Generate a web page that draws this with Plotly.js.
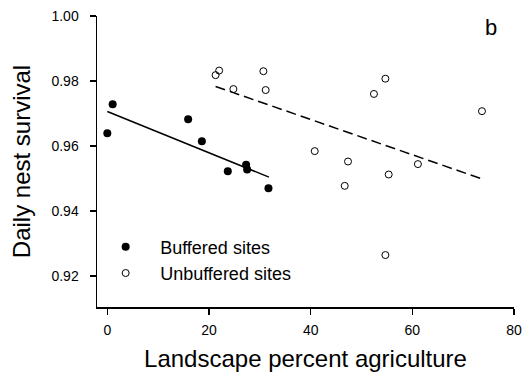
<!DOCTYPE html>
<html>
<head>
<meta charset="utf-8">
<script src="https://cdn.plot.ly/plotly-3.0.1.min.js"></script>
<style>html,body{margin:0;padding:0;background:#fff;}#chart{width:531px;height:381px;}</style>
</head>
<body>
<div id="chart"></div>
<script>
// Buffered sites (filled)
const bufferedX = [0.0, 1.05, 15.9, 18.6, 23.7, 27.3, 27.5, 31.7];
const bufferedY = [0.9639, 0.9728, 0.9682, 0.9614, 0.9522, 0.9542, 0.9527, 0.9470];
// Unbuffered sites (open)
const unbufferedX = [21.3, 22.0, 24.8, 30.7, 31.15, 54.7, 52.45, 73.7, 40.8, 47.35, 46.7, 55.35, 61.1, 54.7];
const unbufferedY = [0.9818, 0.9832, 0.9775, 0.9830, 0.9772, 0.9807, 0.9760, 0.9707, 0.9584, 0.9552, 0.9477, 0.9512, 0.9544, 0.9264];
// Fitted lines (endpoints)
const bufferedFitX = [0.0, 31.8];
const bufferedFitY = [0.9706, 0.9504];
const unbufferedFitX = [21.3, 73.4];
const unbufferedFitY = [0.9783, 0.9500];
// Ticks
const xTicks = [0, 20, 40, 60, 80];
const yTicks = [0.92, 0.94, 0.96, 0.98, 1.00];
const yTickText = ['0.92', '0.94', '0.96', '0.98', '1.00'];

const font = 'Liberation Sans, Arial, sans-serif';

const traces = [
  {x: bufferedFitX, y: bufferedFitY, mode: 'lines', line: {color: '#000', width: 1.5}, showlegend: false, hoverinfo: 'skip'},
  {x: unbufferedFitX, y: unbufferedFitY, mode: 'lines', line: {color: '#000', width: 1.5, dash: '10px,5px'}, showlegend: false, hoverinfo: 'skip'},
  {x: bufferedX, y: bufferedY, mode: 'markers', name: 'Buffered sites',
   marker: {symbol: 'circle', size: 8, color: '#000', line: {width: 0}}},
  {x: unbufferedX, y: unbufferedY, mode: 'markers', name: 'Unbuffered sites',
   marker: {symbol: 'circle-open', size: 7, color: '#000', line: {width: 1, color: '#000'}}}
];

const layout = {
  width: 531, height: 381,
  margin: {l: 97, r: 17, t: 16, b: 74},
  paper_bgcolor: '#fff', plot_bgcolor: '#fff',
  font: {family: font, color: '#000'},
  showlegend: true,
  legend: {x: -0.014, y: 0.27, xanchor: 'left', yanchor: 'top', bgcolor: 'rgba(0,0,0,0)',
           font: {size: 18, family: font, color: '#000'}, itemwidth: 59, traceorder: 'normal'},
  xaxis: {
    range: [-2.03, 80], tickvals: xTicks, ticktext: xTicks.map(String),
    showline: true, linecolor: '#000', linewidth: 1.5, ticks: 'outside', ticklen: 6, tickwidth: 1.5, tickcolor: '#000',
    showgrid: false, zeroline: false, tickfont: {size: 14, family: font}, ticklabelstandoff: 4,
    title: {text: 'Landscape percent agriculture', font: {size: 24, family: font}, standoff: 13}
  },
  yaxis: {
    range: [0.9104, 1.0], tickvals: yTicks, ticktext: yTickText,
    showline: true, linecolor: '#000', linewidth: 1.5, ticks: 'outside', ticklen: 6, tickwidth: 1.5, tickcolor: '#000',
    showgrid: false, zeroline: false, tickfont: {size: 14, family: font}, ticklabelstandoff: 8,
    title: {text: 'Daily nest survival', font: {size: 24, family: font}, standoff: 14}
  },
  annotations: [
    {text: 'b', xref: 'paper', yref: 'paper', x: 0.945, y: 0.96, xanchor: 'center', yanchor: 'middle',
     showarrow: false, font: {size: 22, family: font, color: '#000'}}
  ]
};

Plotly.newPlot('chart', traces, layout, {displayModeBar: false, staticPlot: true});
</script>
</body>
</html>
